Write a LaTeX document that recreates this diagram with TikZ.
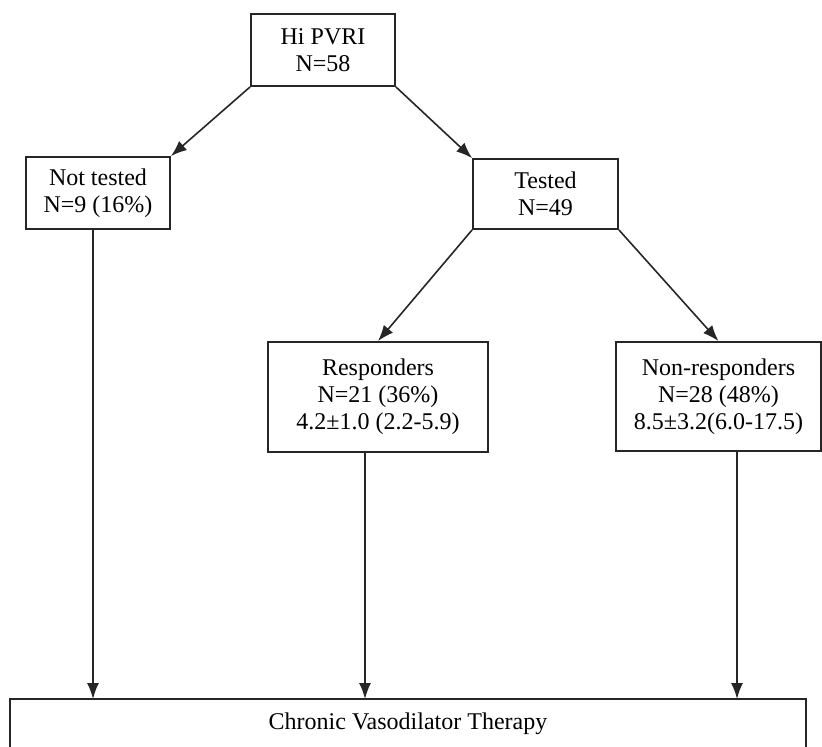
\documentclass[tikz,border=0pt]{standalone}
\usepackage{fontspec}
\setmainfont{Liberation Serif}
\usetikzlibrary{arrows.meta,positioning,calc}

\begin{document}
\begin{tikzpicture}[x=0.5pt, y=-0.5pt,
  box/.style={draw=black!85, line width=0.9pt, rectangle, align=center, inner sep=1pt,
    font=\fontsize{12}{13.4}\selectfont},
  arr/.style={draw=black!85, line width=0.8pt, -{Latex[length=8pt,width=6pt]}}]
\useasboundingbox (0,0) rectangle (822,746);

\node[box, minimum width=72pt, minimum height=36pt] (hi) at (323,50) {Hi PVRI\\N=58};
\node[box, minimum width=72pt, minimum height=36pt] (nottested) at (98,193) {Not tested\\N=9 (16\%)};
\node[box, minimum width=72.5pt, minimum height=35pt] (tested) at (545.5,194) {Tested\\N=49};
\node[box, minimum width=110pt, minimum height=55pt] (resp) at (378,397) {Responders\\N=21 (36\%)\\4.2±1.0 (2.2-5.9)};
\node[box, minimum width=102.5pt, minimum height=54.5pt] (nonresp) at (718.5,396.5) {Non-responders\\N=28 (48\%)\\8.5±3.2(6.0-17.5)};
\node[box, minimum width=398pt, minimum height=25pt] (therapy) at (408,724) {Chronic Vasodilator Therapy};

\coordinate (in1) at (93,699);
\coordinate (in2) at (365,699);
\coordinate (in3) at (737,699);

\draw[arr] (hi.south west) -- (nottested.north east);
\draw[arr] (hi.south east) -- (tested.north west);
\draw[arr] (tested.south west) -- (resp.north);
\draw[arr] (tested.south east) -- (nonresp.north);
\draw[arr] (in1 |- nottested.south) -- (in1);
\draw[arr] (in2 |- resp.south) -- (in2);
\draw[arr] (in3 |- nonresp.south) -- (in3);
\end{tikzpicture}
\end{document}
